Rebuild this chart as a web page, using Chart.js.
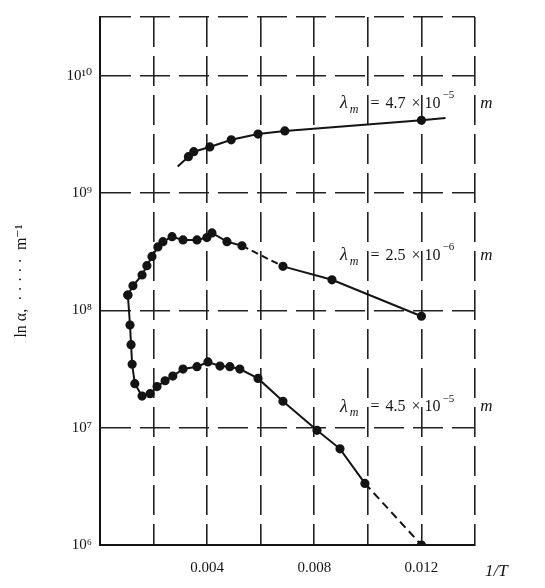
<!DOCTYPE html>
<html><head><meta charset="utf-8">
<script src="https://cdn.jsdelivr.net/npm/chart.js@4.4.1/dist/chart.umd.min.js"></script>
<style>html,body{margin:0;padding:0;background:#fff}</style>
</head><body>
<canvas id="c" width="545" height="588"></canvas>
<script>
// ---- data ----
const xTickLabels = [0.004, 0.008, 0.012];
const yDecades = [1e6, 1e7, 1e8, 1e9, 1e10];

const topX = [0.0029, 0.0033, 0.0035, 0.0041, 0.0049, 0.0059, 0.0069, 0.0120, 0.0129];
const topY = [1.68e9, 2.04e9, 2.25e9, 2.47e9, 2.84e9, 3.18e9, 3.38e9, 4.17e9, 4.35e9];

const midX = [0.00104, 0.00123, 0.00157, 0.00175, 0.00194, 0.00216, 0.00235, 0.00269, 0.0031, 0.00362, 0.00399, 0.00418, 0.00474, 0.0053, 0.00683, 0.00866, 0.0120];
const midY = [1.35e8, 1.62e8, 2.0e8, 2.4e8, 2.88e8, 3.47e8, 3.85e8, 4.24e8, 3.98e8, 3.98e8, 4.17e8, 4.57e8, 3.85e8, 3.55e8, 2.37e8, 1.82e8, 8.9e7];

const lowX = [0.00104, 0.00112, 0.00116, 0.0012, 0.0013, 0.00157, 0.00187, 0.00213, 0.00243, 0.00272, 0.0031, 0.00362, 0.00403, 0.00448, 0.00485, 0.00522, 0.0059, 0.00683, 0.0081, 0.00896, 0.00989, 0.0120];
const lowY = [1.35e8, 7.5e7, 5.1e7, 3.47e7, 2.37e7, 1.86e7, 1.95e7, 2.24e7, 2.51e7, 2.75e7, 3.16e7, 3.31e7, 3.63e7, 3.35e7, 3.31e7, 3.16e7, 2.63e7, 1.68e7, 9.5e6, 6.6e6, 3.35e6, 1.0e6];

const curveNames = ['4.7', '2.5', '4.5'];
const curveExps = ['−5', '−6', '−5'];
const yTitle = 'ln α,  · · · · ·  m⁻¹';
const xTitle = '1/T';

// ---- helpers ----
const SUP = {'0':'⁰','1':'¹','2':'²','3':'³','4':'⁴','5':'⁵','6':'⁶','7':'⁷','8':'⁸','9':'⁹','-':'⁻'};
const sup = s => String(s).split('').map(c => SUP[c] || c).join('');
const zip = (xs, ys) => xs.map((x, i) => ({x, y: ys[i]}));
const SERIF = '"Liberation Serif", "DejaVu Serif", serif';
const INK = '#141414';

const yMax = Math.pow(10, 10.5);

function lineSet(label, xs, ys, hideEnds) {
  return {
    label, data: zip(xs, ys), showLine: true,
    borderColor: INK, backgroundColor: INK, borderWidth: 2,
    pointRadius: c => (hideEnds && (c.dataIndex === 0 || c.dataIndex === xs.length - 1)) ? 0 : 3.6,
    pointHoverRadius: 0, tension: 0,
  };
}

const dsTop = lineSet('top', topX, topY, true);
const dsMid = lineSet('mid', midX, midY, false);
dsMid.segment = { borderDash: c => (c.p0.parsed.x > 0.005 && c.p1.parsed.x < 0.007) ? [7, 4] : undefined };
const dsLow = lineSet('low', lowX, lowY, false);
dsLow.segment = { borderDash: c => (c.p0.parsed.x > 0.0098) ? [8, 5] : undefined };

const textPlugin = {
  id: 'texts',
  afterDraw(chart) {
    const {ctx, scales: {x, y}} = chart;
    ctx.save();
    ctx.fillStyle = INK;
    ctx.textBaseline = 'middle';
    const anchors = [[0.00896, Math.pow(10, 9.764)], [0.00896, Math.pow(10, 8.467)], [0.00896, Math.pow(10, 7.177)]];
    anchors.forEach((a, i) => {
      let px = x.getPixelForValue(a[0]);
      const py = y.getPixelForValue(a[1]);
      const parts = [
        ['italic 18px ' + SERIF, 'λ', 0, 2],
        ['italic 12px ' + SERIF, 'm', 6, 12],
        ['16px ' + SERIF, '=', 0, 6],
        ['16px ' + SERIF, curveNames[i], 0, 6],
        ['16px ' + SERIF, '×', 0, 4],
        ['16px ' + SERIF, '10', 0, 2],
        ['11px ' + SERIF, curveExps[i], -8, 26],
        ['italic 17px ' + SERIF, 'm', 0, 0],
      ];
      parts.forEach(([f, t, dy, gap]) => {
        ctx.font = f;
        ctx.fillText(t, px, py + dy);
        px += ctx.measureText(t).width + gap;
      });
    });
    ctx.font = 'italic 17px ' + SERIF;
    ctx.textAlign = 'left';
    ctx.fillText(xTitle, chart.chartArea.right + 10, chart.chartArea.bottom + 27);
    ctx.restore();
  }
};

new Chart(document.getElementById('c'), {
  type: 'scatter',
  data: { datasets: [dsTop, dsMid, dsLow] },
  options: {
    responsive: false, animation: false, devicePixelRatio: 1,
    layout: { padding: { left: 12, right: 70, top: 10, bottom: 0 } },
    plugins: { legend: { display: false }, tooltip: { enabled: false } },
    scales: {
      x: {
        type: 'linear', min: 0, max: 0.014,
        afterFit: s => { s.height = 43; },
        ticks: {
          stepSize: 0.002, autoSkip: false, maxRotation: 0, padding: 14,
          color: INK, font: { family: SERIF, size: 15 },
          callback: v => xTickLabels.some(t => Math.abs(t - v) < 1e-9) ? v.toFixed(3) : ''
        },
        grid: { color: '#222', lineWidth: 1.6, drawTicks: false },
        border: { display: true, color: INK, width: 2, dash: [30, 9] }
      },
      y: {
        type: 'logarithmic', min: 1e6, max: yMax,
        afterBuildTicks: s => { s.ticks = [...yDecades, yMax].map(v => ({ value: v })); },
        afterFit: s => { s.width = 88; },
        ticks: {
          padding: 8, color: INK, font: { family: SERIF, size: 15 },
          callback: v => yDecades.includes(v) ? '10' + sup(Math.round(Math.log10(v))) : ''
        },
        grid: { color: '#222', lineWidth: 1.6, drawTicks: false },
        border: { display: true, color: INK, width: 2, dash: [30, 9] },
        title: { display: true, text: yTitle, color: INK, font: { family: SERIF, size: 16 }, padding: 0 }
      }
    }
  },
  plugins: [textPlugin]
});
</script>
</body></html>
